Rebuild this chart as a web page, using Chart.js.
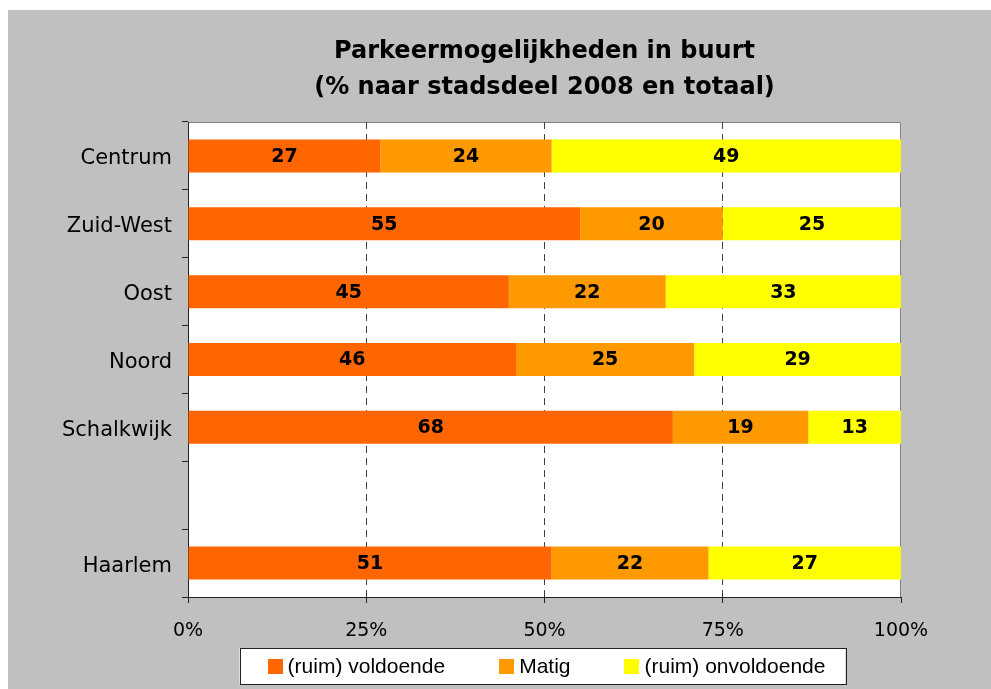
<!DOCTYPE html>
<html>
<head>
<meta charset="utf-8">
<script src="https://cdn.jsdelivr.net/npm/chart.js@4/dist/chart.umd.min.js"></script>
<style>
  body { margin: 0; background: #fff; }
  #wrap { position: absolute; left: 8px; top: 10px; width: 983px; height: 679px; background: #c0c0c0; }
</style>
</head>
<body>
<div id="wrap"><canvas id="chart"></canvas></div>
<script>
// Chart data
const categories = ['Centrum', 'Zuid-West', 'Oost', 'Noord', 'Schalkwijk', '', 'Haarlem'];
const ruimVoldoende = [27, 55, 45, 46, 68, null, 51];
const matig = [24, 20, 22, 25, 19, null, 22];
const onvoldoende = [49, 25, 33, 29, 13, null, 27];
const xTicks = [0, 25, 50, 75, 100];

const colors = {
  voldoende: '#ff6600',
  matig: '#ff9900',
  onvoldoende: '#ffff00',
  axis: '#222222',
  grid: '#404040',
  frame: '#808080'
};

// White plot area with grey frame on top and right
const backdrop = {
  id: 'backdrop',
  beforeDraw(chart) {
    const { ctx, chartArea: a } = chart;
    ctx.save();
    ctx.fillStyle = '#ffffff';
    ctx.fillRect(a.left, a.top, a.right - a.left, a.bottom - a.top);
    ctx.strokeStyle = colors.frame;
    ctx.lineWidth = 1;
    ctx.beginPath();
    ctx.moveTo(a.left, a.top + 0.5);
    ctx.lineTo(a.right - 0.5, a.top + 0.5);
    ctx.lineTo(a.right - 0.5, a.bottom);
    ctx.stroke();
    ctx.restore();
  }
};

// Boxed legend below the axis, built from the datasets
const boxedLegend = {
  id: 'boxedLegend',
  afterDraw(chart) {
    const { ctx, chartArea: a } = chart;
    const box = 15, textGap = 5, itemGap = 54;
    ctx.save();
    ctx.font = '21px "Liberation Sans"';
    const items = chart.data.datasets.map(ds => ({
      text: ds.label,
      color: ds.backgroundColor,
      width: box + textGap + ctx.measureText(ds.label).width
    }));
    const total = items.reduce((s, it) => s + it.width, 0) + itemGap * (items.length - 1);
    let x = (a.left + a.right) / 2 + 2 - total / 2;
    const top = a.bottom + 51;
    const left = x - 28;
    const right = x + total + 20;
    ctx.fillStyle = '#ffffff';
    ctx.fillRect(left, top, right - left, 36);
    ctx.strokeStyle = colors.axis;
    ctx.lineWidth = 1;
    ctx.strokeRect(Math.round(left) + 0.5, Math.round(top) + 0.5, Math.round(right - left), 36);
    ctx.textBaseline = 'middle';
    ctx.textAlign = 'left';
    items.forEach(it => {
      ctx.fillStyle = it.color;
      ctx.fillRect(Math.round(x), top + 11, box, box);
      ctx.fillStyle = '#000';
      ctx.fillText(it.text, x + box + textGap, top + 19);
      x += it.width + itemGap;
    });
    ctx.restore();
  }
};

// Values centred in each bar segment
const barValues = {
  id: 'barValues',
  afterDatasetsDraw(chart) {
    const { ctx } = chart;
    ctx.save();
    ctx.font = 'bold 19px "DejaVu Sans"';
    ctx.fillStyle = '#000';
    ctx.textAlign = 'center';
    ctx.textBaseline = 'middle';
    chart.data.datasets.forEach((ds, i) => {
      chart.getDatasetMeta(i).data.forEach((bar, j) => {
        const v = ds.data[j];
        if (v === null || v === undefined) return;
        ctx.fillText(String(v), (bar.x + bar.base) / 2, bar.y + 1);
      });
    });
    ctx.restore();
  }
};

const ctx = document.getElementById('chart').getContext('2d');
new Chart(ctx, {
  type: 'bar',
  data: {
    labels: categories,
    datasets: [
      { label: '(ruim) voldoende', data: ruimVoldoende, backgroundColor: colors.voldoende },
      { label: 'Matig', data: matig, backgroundColor: colors.matig },
      { label: '(ruim) onvoldoende', data: onvoldoende, backgroundColor: colors.onvoldoende }
    ]
  },
  options: {
    indexAxis: 'y',
    responsive: true,
    maintainAspectRatio: false,
    animation: false,
    datasets: {
      bar: { barPercentage: 0.486, categoryPercentage: 1, borderWidth: 0 }
    },
    layout: {
      padding: { left: 0, right: 90, top: 0, bottom: 40 }
    },
    plugins: {
      tooltip: { enabled: false },
      legend: { display: false },
      title: {
        display: true,
        fullSize: false,
        text: ['Parkeermogelijkheden in buurt', '(% naar stadsdeel 2008 en totaal)'],
        color: '#000',
        font: { family: '"DejaVu Sans"', size: 24, weight: 'bold', lineHeight: '36px' },
        padding: { top: 24, bottom: 16 }
      }
    },
    scales: {
      x: {
        stacked: true,
        min: 0,
        max: 100,
        afterBuildTicks(scale) {
          scale.ticks = xTicks.map(v => ({ value: v }));
        },
        afterFit(scale) {
          scale.height = 52;
        },
        ticks: {
          color: '#000',
          font: { family: '"DejaVu Sans"', size: 19 },
          padding: 17,
          maxRotation: 0,
          callback: v => v + '%'
        },
        grid: {
          color: c => (c.tick && c.tick.value > 0 && c.tick.value < 100) ? colors.grid : 'rgba(0,0,0,0)',
          tickColor: colors.axis,
          tickLength: 6,
          tickBorderDash: []
        },
        border: { display: true, color: colors.axis, width: 1, dash: [7, 5] }
      },
      y: {
        stacked: true,
        afterFit(scale) {
          scale.width = 180;
        },
        ticks: {
          color: '#000',
          font: { family: '"DejaVu Sans"', size: 21 },
          padding: 10,
          labelOffset: 3
        },
        grid: {
          drawOnChartArea: false,
          tickColor: colors.axis,
          tickLength: 6
        },
        border: { display: true, color: colors.axis, width: 1 }
      }
    }
  },
  plugins: [backdrop, barValues, boxedLegend]
});
</script>
</body>
</html>
